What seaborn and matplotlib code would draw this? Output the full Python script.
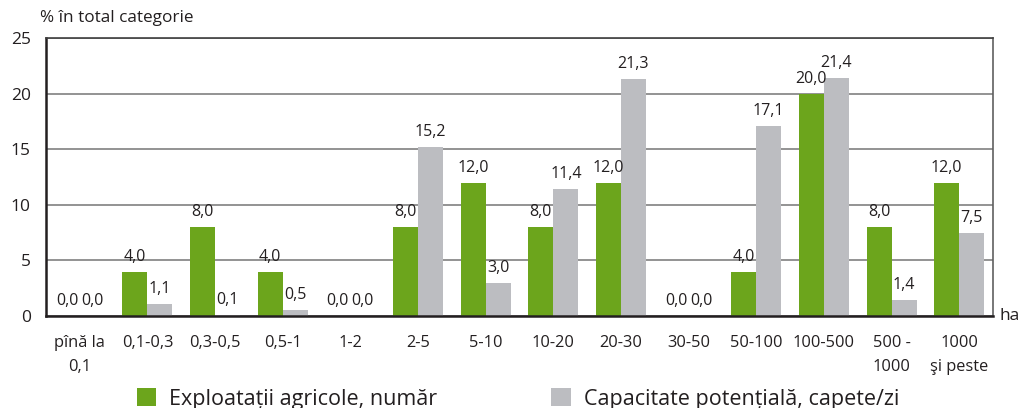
import matplotlib
matplotlib.use("Agg")
import matplotlib.pyplot as plt
from matplotlib.patches import Patch
import numpy as np
import pandas as pd
import seaborn as sns

categories = ["pînă la\n0,1", "0,1-0,3", "0,3-0,5", "0,5-1", "1-2", "2-5", "5-10",
              "10-20", "20-30", "30-50", "50-100", "100-500", "500 -\n1000", "1000\nşi peste"]
exploatatii = [0.0, 4.0, 8.0, 4.0, 0.0, 8.0, 12.0, 8.0, 12.0, 0.0, 4.0, 20.0, 8.0, 12.0]
capacitate = [0.0, 1.1, 0.1, 0.5, 0.0, 15.2, 3.0, 11.4, 21.3, 0.0, 17.1, 21.4, 1.4, 7.5]
series_names = ["Exploatații agricole, număr", "Capacitate potențială, capete/zi"]
y_ticks = [0, 5, 10, 15, 20, 25]

GREEN = "#6ca51c"
GREY = "#bcbdc1"
INK = "#231f20"

df = pd.DataFrame({
    "cat": categories * 2,
    "val": exploatatii + capacitate,
    "serie": [series_names[0]] * len(categories) + [series_names[1]] * len(categories),
})

sns.set_style("white")
plt.rcParams["font.family"] = ["Open Sans", "DejaVu Sans"]

fig = plt.figure(figsize=(10.22, 4.08), dpi=100)
ax = fig.add_axes([46 / 1022, 1 - 316 / 408, (993 - 46) / 1022, (316 - 38) / 408])

sns.barplot(data=df, x="cat", y="val", hue="serie", order=categories,
            hue_order=series_names, palette=[GREEN, GREY], width=0.74,
            saturation=1, ax=ax, legend=False, errorbar=None, linewidth=0)

for cont in ax.containers:
    for bar in cont:
        h = bar.get_height()
        ax.annotate(f"{h:.1f}".replace(".", ","),
                    (bar.get_x() + bar.get_width() / 2, h),
                    xytext=(0, 5), textcoords="offset points",
                    ha="center", va="bottom", fontsize=11.5, color=INK)

ax.set_ylim(0, 25)
ax.set_xlim(-0.5, len(categories) - 0.5)
ax.set_yticks(y_ticks)
ax.set_yticklabels([str(t) for t in y_ticks], fontsize=12.5, color=INK)
ax.yaxis.grid(True, color="#808080", linewidth=1.2)
ax.set_axisbelow(True)

ax.set_xticks(range(len(categories)))
ax.set_xticklabels(categories, fontsize=11.8, color=INK, linespacing=1.6)
ax.set_xticks(np.arange(-0.5, len(categories), 1), minor=True)
ax.tick_params(axis="x", which="major", length=0, pad=14)
ax.tick_params(axis="x", which="minor", length=5, width=1.5, color=INK, direction="out")
ax.tick_params(axis="y", length=6, width=1.5, color=INK, direction="out", pad=5)
ax.set_xlabel("")
ax.set_ylabel("")

for side in ["left", "bottom"]:
    ax.spines[side].set_color(INK)
    ax.spines[side].set_linewidth(1.8)
ax.spines["top"].set_color("#404040")
ax.spines["top"].set_linewidth(1.2)
ax.spines["right"].set_color("#606060")
ax.spines["right"].set_linewidth(1.2)

fig.text(40 / 1022, 1 - 18 / 408, "% în total categorie", fontsize=12.3,
         ha="left", va="center", color=INK)
fig.text(999 / 1022, 1 - 316 / 408, "ha", fontsize=12.5, ha="left", va="center",
         color=INK)

handles = [Patch(facecolor=GREEN, edgecolor="none"), Patch(facecolor=GREY, edgecolor="none")]
fig.legend(handles, series_names, loc="center left",
           bbox_to_anchor=(126 / 1022, 1 - 399 / 408), ncol=2, frameon=False,
           fontsize=15.5, handlelength=0.9, handleheight=0.9, handletextpad=0.6,
           columnspacing=5.3, borderpad=0, labelcolor=INK)

fig.savefig("out.png", dpi=100)
